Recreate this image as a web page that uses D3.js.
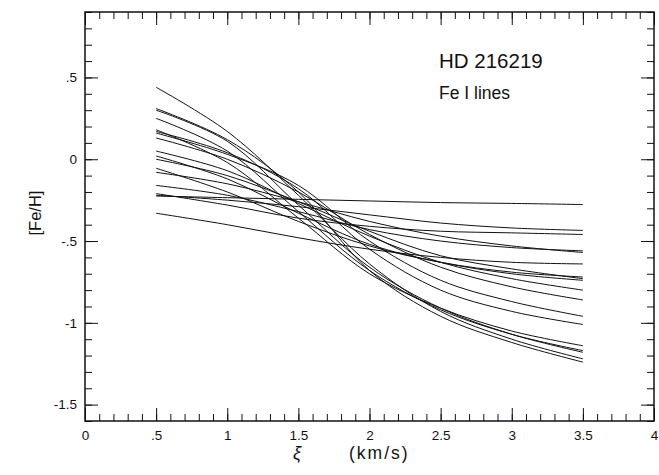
<!DOCTYPE html>
<html>
<head>
<meta charset="utf-8">
<script src="https://cdn.jsdelivr.net/npm/d3@7"></script>
<style>
  body { margin: 0; background: #fff; }
  text { font-family: "Liberation Sans", Arial, Helvetica, sans-serif; fill: #111; }
</style>
</head>
<body>
<svg id="svg"></svg>
<script>
var xiValues = [0.5, 1.0, 1.5, 2.0, 2.5, 3.0, 3.5];

// [Fe/H] from each line, one array per line, same order as xiValues
var line01 = [0.44, 0.17, -0.22, -0.64, -0.93, -1.10, -1.22];
var line02 = [0.31, 0.12, -0.20, -0.68, -0.96, -1.12, -1.24];
var line03 = [0.30, 0.11, -0.28, -0.66, -0.91, -1.07, -1.18];
var line04 = [0.25, 0.05, -0.32, -0.68, -0.92, -1.07, -1.17];
var line05 = [0.18, -0.02, -0.36, -0.70, -0.91, -1.05, -1.14];
var line06 = [0.17, 0.04, -0.18, -0.55, -0.80, -0.93, -1.01];
var line07 = [0.16, 0.03, -0.16, -0.50, -0.74, -0.87, -0.96];
var line08 = [0.13, 0.00, -0.20, -0.46, -0.66, -0.78, -0.86];
var line09 = [0.05, -0.07, -0.27, -0.47, -0.63, -0.73, -0.80];
var line10 = [0.02, -0.12, -0.33, -0.52, -0.63, -0.70, -0.74];
var line11 = [0.00, -0.10, -0.26, -0.44, -0.59, -0.67, -0.73];
var line12 = [-0.055, -0.20, -0.38, -0.53, -0.63, -0.69, -0.72];
var line13 = [-0.08, -0.15, -0.26, -0.38, -0.47, -0.53, -0.57];
var line14 = [-0.16, -0.22, -0.32, -0.43, -0.50, -0.54, -0.56];
var line15 = [-0.21, -0.28, -0.36, -0.41, -0.44, -0.45, -0.46];
var line16 = [-0.22, -0.25, -0.29, -0.34, -0.39, -0.42, -0.435];
var line17 = [-0.225, -0.235, -0.245, -0.255, -0.265, -0.27, -0.277];
var line18 = [-0.33, -0.40, -0.48, -0.55, -0.60, -0.63, -0.64];

var allLines = [line01, line02, line03, line04, line05, line06, line07, line08, line09,
                line10, line11, line12, line13, line14, line15, line16, line17, line18];

var xTickLabels = ["0", ".5", "1", "1.5", "2", "2.5", "3", "3.5", "4"];
var yTickLabels = ["-1.5", "-1", "-.5", "0", ".5"];

//////////////////////////////////////////////////////////////////////////////

var width = 659, height = 475;
var plotLeft = 85, plotRight = 654, plotTop = 12, plotBottom = 421;

var x = d3.scaleLinear().domain([0, 4]).range([plotLeft, plotRight]);
var y = d3.scaleLinear().domain([-1.6, 0.9]).range([plotBottom, plotTop]);

var svg = d3.select("#svg")
    .attr("width", width)
    .attr("height", height);

var majorX = d3.range(0, 4.001, 0.5);
var minorX = d3.range(0, 4.001, 0.1);
var majorY = d3.range(-1.5, 0.501, 0.5);
var minorY = d3.range(-1.6, 0.901, 0.1);

// inward ticks on all four sides, labels only left and bottom
var bottomAxis = d3.axisBottom(x).tickValues(majorX)
    .tickSize(-13).tickPadding(9)
    .tickFormat(function(d, i) { return xTickLabels[i]; });
var bottomMinor = d3.axisBottom(x).tickValues(minorX).tickSize(-7).tickFormat("");
var topAxis = d3.axisTop(x).tickValues(majorX).tickSize(-13).tickFormat("");
var topMinor = d3.axisTop(x).tickValues(minorX).tickSize(-7).tickFormat("");

var leftAxis = d3.axisLeft(y).tickValues(majorY)
    .tickSize(-13).tickPadding(8)
    .tickFormat(function(d, i) { return yTickLabels[i]; });
var leftMinor = d3.axisLeft(y).tickValues(minorY).tickSize(-7).tickFormat("");
var rightAxis = d3.axisRight(y).tickValues(majorY).tickSize(-13).tickFormat("");
var rightMinor = d3.axisRight(y).tickValues(minorY).tickSize(-7).tickFormat("");

function styleAxis(g) {
    g.select(".domain").remove();
    g.selectAll("line").attr("stroke", "#111").attr("stroke-width", 1);
    g.selectAll("text").attr("font-size", 13.5).attr("fill", "#111")
        .style("font-family", "'Liberation Sans', Arial, sans-serif");
}

svg.append("g").attr("transform", "translate(0," + plotBottom + ")").call(bottomMinor).call(styleAxis);
svg.append("g").attr("transform", "translate(0," + plotBottom + ")").call(bottomAxis).call(styleAxis);
svg.append("g").attr("transform", "translate(0," + plotTop + ")").call(topMinor).call(styleAxis);
svg.append("g").attr("transform", "translate(0," + plotTop + ")").call(topAxis).call(styleAxis);
svg.append("g").attr("transform", "translate(" + plotLeft + ",0)").call(leftMinor).call(styleAxis);
svg.append("g").attr("transform", "translate(" + plotLeft + ",0)").call(leftAxis).call(styleAxis);
svg.append("g").attr("transform", "translate(" + plotRight + ",0)").call(rightMinor).call(styleAxis);
svg.append("g").attr("transform", "translate(" + plotRight + ",0)").call(rightAxis).call(styleAxis);

// frame
svg.append("rect")
    .attr("x", plotLeft).attr("y", plotTop)
    .attr("width", plotRight - plotLeft).attr("height", plotBottom - plotTop)
    .attr("fill", "none").attr("stroke", "#111").attr("stroke-width", 1.5);

// the curves
var lineGen = d3.line()
    .x(function(d, i) { return x(xiValues[i]); })
    .y(function(d) { return y(d); })
    .curve(d3.curveCatmullRom);

svg.append("g").selectAll("path")
    .data(allLines)
    .enter()
    .append("path")
    .attr("d", lineGen)
    .attr("fill", "none")
    .attr("stroke", "#111")
    .attr("stroke-width", 1);

// labels
svg.append("text").attr("x", 439).attr("y", 68)
    .attr("font-size", 20.5).text("HD 216219");
svg.append("text").attr("x", 439).attr("y", 99)
    .attr("font-size", 17.5).text("Fe I lines");

svg.append("text")
    .attr("transform", "translate(41,213) rotate(-90)")
    .attr("text-anchor", "middle")
    .attr("font-size", 16.5)
    .text("[Fe/H]");

svg.append("text").attr("x", 293).attr("y", 459)
    .attr("font-size", 18).attr("font-style", "italic").text("ξ");
svg.append("text").attr("x", 349).attr("y", 459)
    .attr("font-size", 17.5).attr("letter-spacing", 2).text("(km/s)");
</script>
</body>
</html>
